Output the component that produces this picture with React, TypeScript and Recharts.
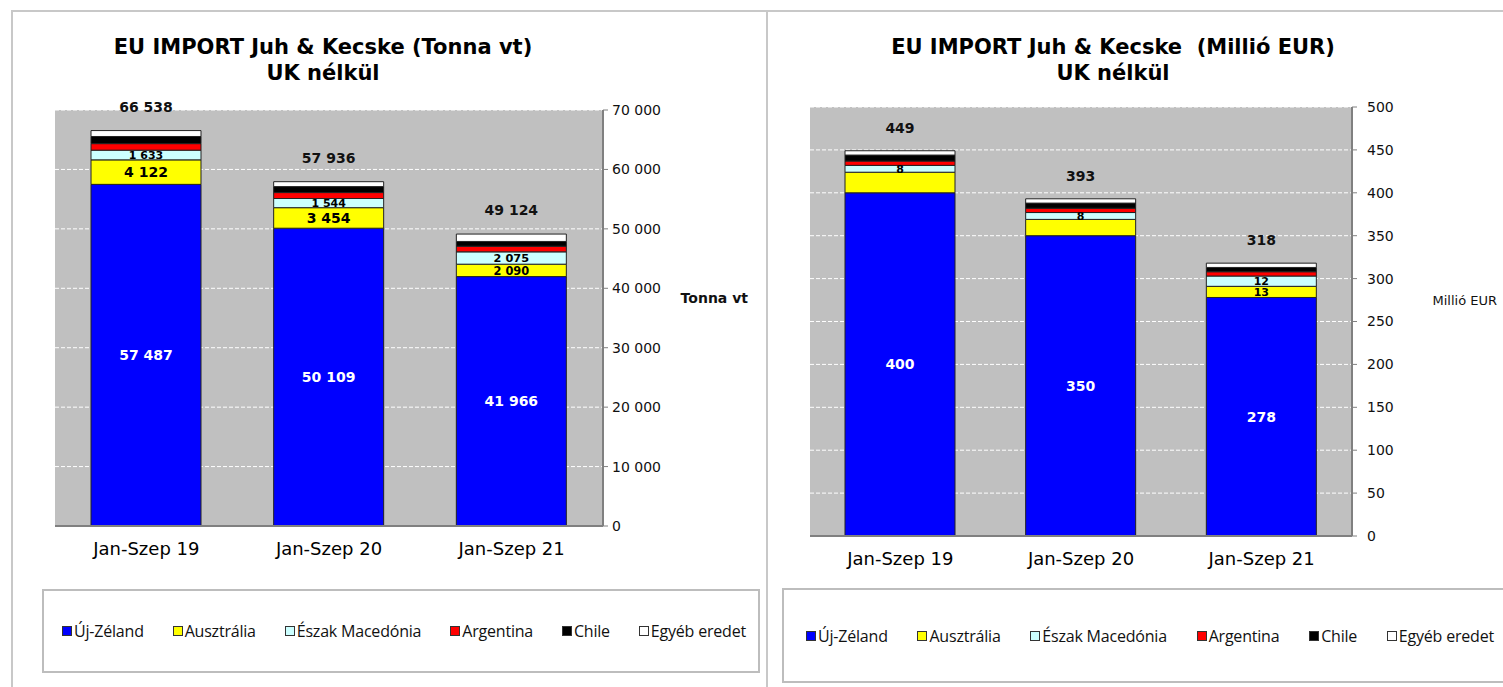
import React from 'react';
import { BarChart, Bar, XAxis, YAxis, CartesianGrid, LabelList } from 'recharts';

const periods = ['Jan-Szep 19', 'Jan-Szep 20', 'Jan-Szep 21'];
const origins = ['Új-Zéland', 'Ausztrália', 'Észak Macedónia', 'Argentina', 'Chile', 'Egyéb eredet'];
const originColors = ['#0000ff', '#ffff00', '#ccffff', '#ff0000', '#000000', '#ffffff'];

// Tonna vt
const tonNz = [57487, 50109, 41966];
const tonAu = [4122, 3454, 2090];
const tonMk = [1633, 1544, 2075];
const tonAr = [1100, 1000, 950];
const tonCl = [1200, 1000, 800];
const tonOther = [996, 829, 1243];
const tonTotal = [66538, 57936, 49124];
const tonTicks = [0, 10000, 20000, 30000, 40000, 50000, 60000, 70000];

// Millió EUR
const eurNz = [400, 350, 278];
const eurAu = [24, 19, 13];
const eurMk = [8, 8, 12];
const eurAr = [5, 5, 5];
const eurCl = [7, 6, 5];
const eurOther = [5, 5, 5];
const eurTotal = [449, 393, 318];
const eurTicks = [0, 50, 100, 150, 200, 250, 300, 350, 400, 450, 500];

// which segments carry a value label (per origin, per period)
const tonShown = [[1, 1, 1], [1, 1, 1], [1, 1, 1], [0, 0, 0], [0, 0, 0], [0, 0, 0]];
const eurShown = [[1, 1, 1], [0, 0, 1], [1, 1, 1], [0, 0, 0], [0, 0, 0], [0, 0, 0]];

const fmt = (v: number) => String(v).replace(/\B(?=(\d{3})+(?!\d))/g, ' ');

const buildRows = (cols: number[][], total: number[]) =>
  periods.map((period, i) => {
    const row: any = { period, total: total[i] };
    cols.forEach((c, k) => (row['s' + k] = c[i]));
    return row;
  });

const tonRows = buildRows([tonNz, tonAu, tonMk, tonAr, tonCl, tonOther], tonTotal);
const eurRows = buildRows([eurNz, eurAu, eurMk, eurAr, eurCl, eurOther], eurTotal);

const FONT = '"DejaVu Sans", sans-serif';

const segLabel = (show: number[], color: string) => (props: any) => {
  const vb = props.viewBox || props;
  const { x, y, width, height } = vb;
  if (!show[props.index]) return null;
  // thin segments get a slightly smaller label so neighbours don't collide
  const size = Math.max(11, Math.min(14, height - 1));
  return (
    <text x={x + width / 2} y={y + height / 2} dy={size * 0.36} textAnchor="middle" fill={color}
      fontFamily={FONT} fontWeight="bold" fontSize={size}>
      {fmt(props.value)}
    </text>
  );
};

const totalLabel = (lift: number) => (props: any) => {
  const vb = props.viewBox || props;
  const { x, y, width } = vb;
  return (
    <text x={x + width / 2} y={y - lift} dy={5} textAnchor="middle" fill="#111"
      fontFamily={FONT} fontWeight="bold" fontSize={14}>
      {fmt(props.value)}
    </text>
  );
};

type ChartProps = {
  rows: any[];
  ticks: number[];
  shown: number[][];
  unit: string;
  unitBold: boolean;
  width: number;
  height: number;
  margin: any;
  lift: number;
  unitDy: number;
  tickGap: number;
};

const StackChart = ({ rows, ticks, shown, unit, unitBold, width, height, margin, lift, unitDy, tickGap }: ChartProps) => (
  <BarChart width={width} height={height} data={rows} margin={margin} barSize={110}>
    <CartesianGrid vertical={false} stroke="#ffffff" strokeDasharray="4 2" fill="#c0c0c0" />
    <XAxis dataKey="period" tickLine={false} axisLine={{ stroke: '#808080', strokeWidth: 2 }} height={30}
      tickMargin={10} tick={{ fill: '#000', fontSize: 18, fontFamily: FONT }} />
    <YAxis orientation="right" width={150} domain={[ticks[0], ticks[ticks.length - 1]]} ticks={ticks}
      interval={0} tickFormatter={fmt} axisLine={{ stroke: '#808080', strokeWidth: 2 }}
      tickLine={{ stroke: '#808080' }} tickSize={5} tickMargin={tickGap}
      tick={{ fill: '#111', fontSize: 14, fontFamily: FONT }}
      label={{ value: unit, position: 'insideRight', offset: 5, dy: unitDy, fill: '#111',
        fontSize: unitBold ? 14 : 13, fontWeight: unitBold ? 'bold' : 'normal', fontFamily: FONT }} />
    {origins.map((name, k) => (
      <Bar key={name} dataKey={'s' + k} name={name} stackId="a" fill={originColors[k]}
        stroke="#222" strokeWidth={1} isAnimationActive={false}>
        <LabelList dataKey={'s' + k} content={segLabel(shown[k], k === 0 ? '#ffffff' : '#000000')} />
        {k === origins.length - 1 && <LabelList dataKey="total" content={totalLabel(lift)} />}
      </Bar>
    ))}
  </BarChart>
);

const Legend = ({ left, top, width, height, padL, padR }: any) => (
  <div style={{
    position: 'absolute', left, top, width, height, boxSizing: 'border-box',
    border: '2px solid #bdbdbd', display: 'flex', alignItems: 'center',
    justifyContent: 'space-between', paddingLeft: padL, paddingRight: padR,
    fontFamily: '"Open Sans", sans-serif', fontSize: 16, letterSpacing: -0.2, color: '#111',
  }}>
    {origins.map((name, k) => (
      <div key={name} style={{ display: 'flex', alignItems: 'center', whiteSpace: 'nowrap' }}>
        <span style={{ width: 8, height: 8, background: originColors[k], border: '1px solid #333', marginRight: 2 }} />
        <span>{name}</span>
      </div>
    ))}
  </div>
);

const Title = ({ cx, lines }: { cx: number; lines: string[] }) => (
  <div style={{
    position: 'absolute', left: cx - 300, top: 34, width: 600, textAlign: 'center',
    fontFamily: FONT, fontWeight: 'bold', fontSize: 21, lineHeight: '26px', color: '#000',
    whiteSpace: 'pre',
  }}>
    {lines.map((l) => <div key={l}>{l}</div>)}
  </div>
);

export default function App() {
  return (
    <div style={{ position: 'fixed', left: 0, top: 0, width: 1503, height: 687, background: '#fff', overflow: 'hidden' }}>
      <div style={{ position: 'absolute', left: 11, top: 10, width: 1600, height: 2, background: '#c8c8c8' }} />
      <div style={{ position: 'absolute', left: 11, top: 10, width: 2, height: 700, background: '#c8c8c8' }} />
      <div style={{ position: 'absolute', left: 766, top: 10, width: 2, height: 700, background: '#c8c8c8' }} />

      <Title cx={323} lines={['EU IMPORT Juh & Kecske (Tonna vt)', 'UK nélkül']} />
      <div style={{ position: 'absolute', left: 13, top: 12 }}>
        <StackChart rows={tonRows} ticks={tonTicks} shown={tonShown} unit="Tonna vt" unitBold
          width={754} height={560} margin={{ top: 98, right: 14, bottom: 16, left: 42 }} lift={24} unitDy={-20} tickGap={4} />
      </div>
      <Legend left={42} top={589} width={718} height={84} padL={18} padR={12} />

      <Title cx={1113} lines={['EU IMPORT Juh & Kecske  (Millió EUR)', 'UK nélkül']} />
      <div style={{ position: 'absolute', left: 769, top: 12 }}>
        <StackChart rows={eurRows} ticks={eurTicks} shown={eurShown} unit="Millió EUR" unitBold={false}
          width={734} height={570} margin={{ top: 95, right: 1, bottom: 16, left: 41 }} lift={23} unitDy={-21} tickGap={10} />
      </div>
      <Legend left={782} top={588} width={740} height={95} padL={22} padR={26} />
    </div>
  );
}
